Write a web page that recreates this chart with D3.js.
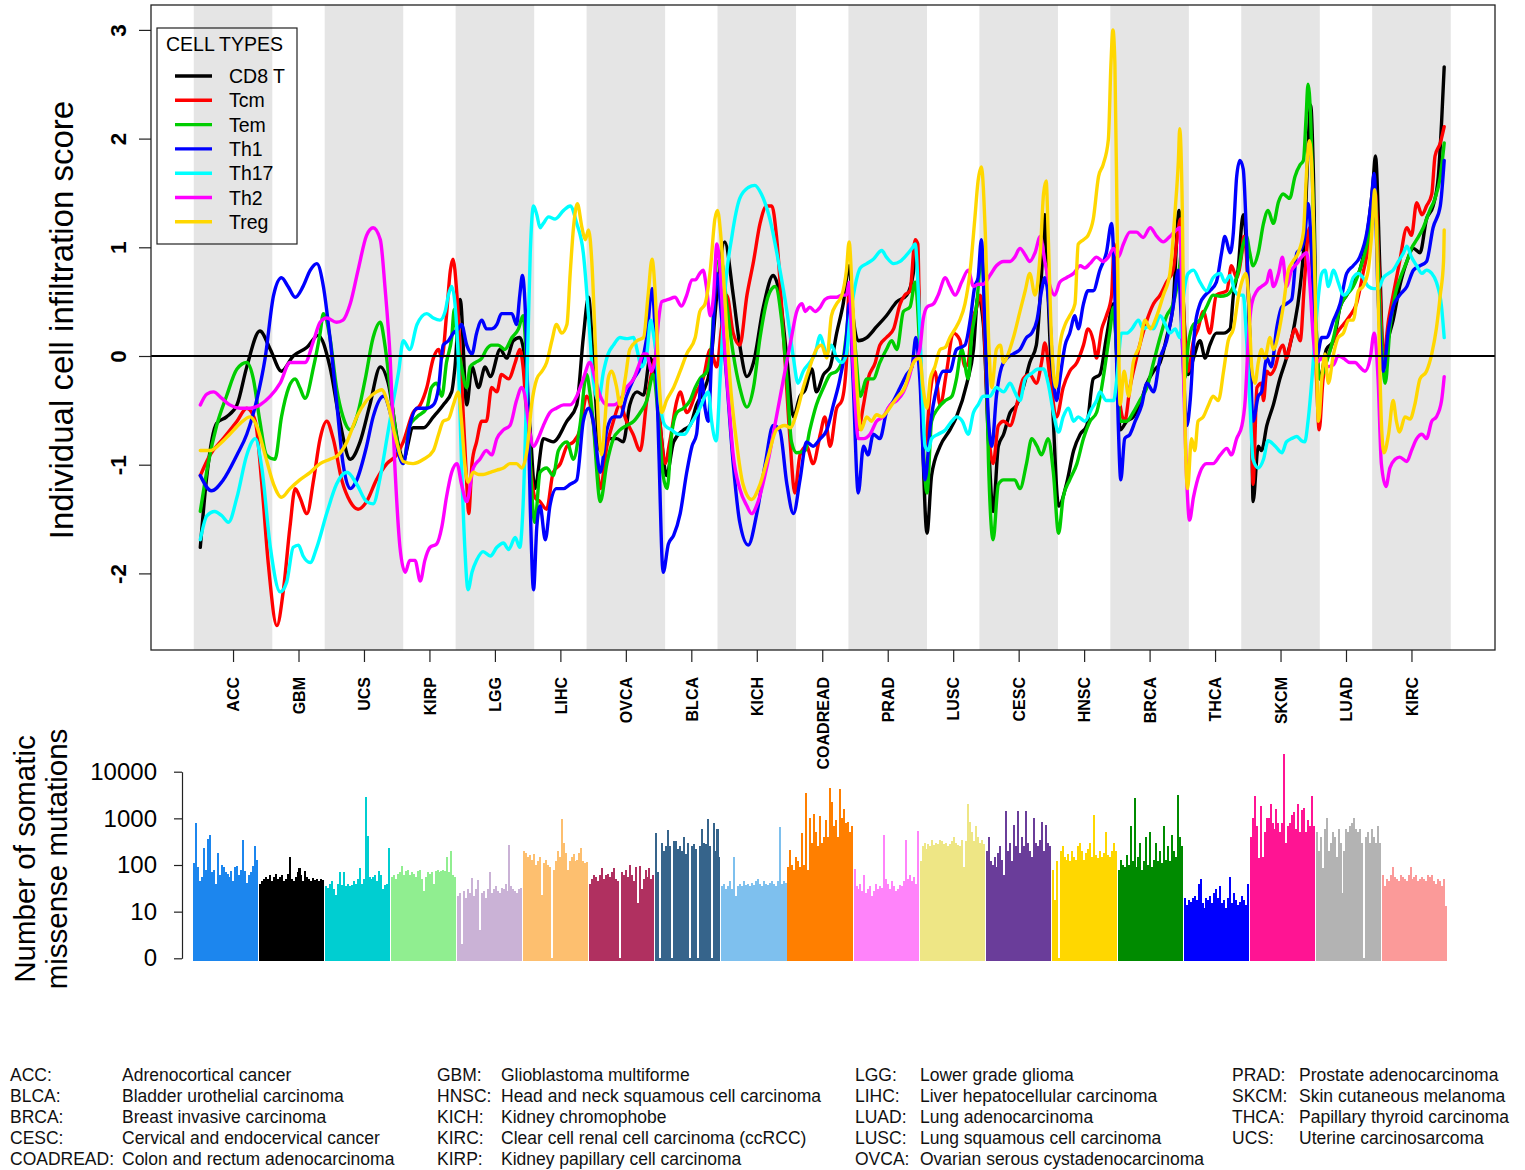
<!DOCTYPE html>
<html><head><meta charset="utf-8">
<script src="https://cdn.jsdelivr.net/npm/d3@7"></script>
<style>
body{margin:0;background:#fff}
svg{display:block}
text{font-family:"Liberation Sans",Arial,Helvetica,sans-serif}
</style>
</head><body>
<svg id="chart" width="1525" height="1170"></svg>
<script>
// Cancer types, in plotting order
const cancers = ["ACC","GBM","UCS","KIRP","LGG","LIHC","OVCA","BLCA","KICH","COADREAD","PRAD","LUSC","CESC","HNSC","BRCA","THCA","SKCM","LUAD","KIRC"];

// Cell types and their line colours
const cellTypes = ["CD8 T","Tcm","Tem","Th1","Th17","Th2","Treg"];
const cellColors = ["#000000","#FF0000","#00CD00","#0000FF","#00FFFF","#FF00FF","#FFD700"];

// Smoothed infiltration score along the ordered samples: [position, score]
// position runs 0..190, ten units per cancer type
const cd8T = [[0,-1.76],[1,-1.1],[2.5,-0.62],[4,-0.56],[5.6,-0.45],[7.1,-0.1],[9.1,0.23],[10.7,0.06],[12.4,-0.14],[14.2,0],[16.3,0.08],[18,0.19],[19.8,-0.1],[21.3,-0.6],[22.9,-0.95],[24.4,-0.79],[25.9,-0.45],[27.5,-0.1],[28.7,-0.25],[30.3,-0.83],[31,-0.95],[32.5,-0.66],[34.1,-0.66],[35.6,-0.56],[37.1,-0.45],[38.4,-0.33],[38.9,-0.1],[39.7,0.52],[40.7,-0.45],[41.5,-0.1],[42.5,-0.29],[43.5,-0.1],[44.3,-0.19],[45.8,0.06],[46.8,-0.02],[47.8,0.14],[48.8,0.17],[49.4,0.05],[50.4,-0.7],[51.1,-1.22],[52.4,-0.76],[53.9,-0.79],[56,-0.6],[57.5,-0.45],[58.5,0.17],[59.3,0.54],[60,-0.02],[61.1,-0.87],[62.3,-0.76],[63.6,-0.76],[64.6,-0.79],[65.6,-0.45],[66.7,-0.33],[67.7,-0.36],[68.7,-0.02],[69.5,-0.17],[70.5,-0.79],[71.2,-1.1],[72.3,-0.79],[73.8,-0.68],[74.8,-0.64],[75.8,-0.45],[76.8,-0.33],[77.9,-0.1],[78.9,0.56],[80.1,1.05],[81.4,0.56],[82.4,0.1],[83.5,-0.19],[84.5,-0.06],[86,0.45],[87.5,0.74],[88.5,0.56],[89.6,-0.02],[90.6,-0.56],[91.6,-0.37],[92.4,-0.31],[93.4,-0.12],[94.1,-0.33],[95.2,-0.17],[96.2,-0.1],[97.2,0.21],[98.2,0.48],[99.1,0.83],[99.7,0.37],[100.5,0.14],[101.8,0.17],[103.3,0.27],[104.8,0.37],[106.4,0.5],[107.9,0.56],[108.9,0.76],[109.4,1.03],[109.9,0.17],[110.4,-0.91],[111,-1.63],[111.7,-1.1],[113,-0.83],[114.5,-0.68],[115.5,-0.56],[117.1,-0.25],[118.1,0.06],[118.8,0.56],[119.6,0.3],[120.4,-0.79],[121.1,-1.43],[121.9,-0.83],[122.7,-0.72],[123.7,-0.52],[124.7,-0.45],[125.7,-0.29],[126.7,-0.06],[127.7,0.1],[128.5,0.76],[129,1.3],[129.5,0.56],[130.3,-0.6],[131.1,-1.38],[132.3,-1.18],[133.4,-0.87],[134.4,-0.72],[135.4,-0.64],[136.4,-0.21],[137.4,-0.17],[138.4,0.17],[139.5,0.48],[140,-0.02],[140.5,-0.68],[141.5,-0.6],[142.5,-0.56],[143.5,-0.45],[144.6,-0.25],[145.6,-0.14],[146.6,-0.06],[147.6,0.17],[148.6,0.48],[149.5,1.34],[150.1,0.56],[150.9,-0.17],[151.7,-0.02],[152.7,0.14],[153.5,-0.02],[154.2,0.1],[155.2,0.21],[156.3,0.21],[157.3,0.25],[157.8,0.56],[158.5,0.79],[159.3,1.3],[160.1,0.56],[160.6,-0.6],[160.8,-1.34],[161.6,-0.83],[162.1,-0.87],[162.9,-0.64],[163.9,-0.45],[164.9,-0.21],[165.9,-0.02],[167,0.25],[168,0.64],[168.7,1.14],[169.2,1.92],[169.6,2.31],[170,1.73],[170.5,0.17],[171,-0.21],[172,0.06],[173.1,0.14],[174.1,0.45],[175.1,0.56],[176.1,0.68],[177.1,0.79],[178.1,1.07],[179.1,1.57],[179.5,1.84],[180.2,0.76],[180.7,-0.06],[181.5,0.17],[182.2,0.33],[183.2,0.64],[184.3,0.87],[185.3,0.99],[186.3,0.95],[187.3,1.26],[188.3,1.38],[189.1,1.65],[189.6,2.15],[190,2.66]];

const tcm = [[0,-1.1],[1.5,-0.91],[3.5,-0.76],[5.6,-0.6],[7.1,-0.48],[8.4,-0.6],[9.4,-1.18],[10.4,-1.92],[11.7,-2.48],[12.7,-2.15],[13.7,-1.57],[14.5,-1.22],[15.2,-1.3],[16.3,-1.45],[17.3,-1.14],[18.3,-0.76],[19.3,-0.6],[20.3,-0.76],[21.6,-1.14],[22.9,-1.34],[24.1,-1.41],[25.4,-1.34],[26.9,-1.14],[28.5,-0.99],[30,-0.91],[31,-0.79],[32.5,-0.52],[33.6,-0.45],[34.6,-0.29],[35.6,-0.02],[36.4,0.06],[36.9,-0.02],[37.6,0.37],[38.2,0.79],[38.6,0.89],[39.2,0.56],[39.9,-0.21],[40.7,-1.18],[41,-1.45],[41.5,-0.99],[42.2,-0.79],[43,-0.6],[43.7,-0.6],[44.5,-0.29],[45.3,-0.33],[46,-0.17],[47.1,-0.21],[48.1,-0.06],[48.8,0.06],[49.3,-0.1],[50.1,-0.79],[51.1,-1.3],[51.9,-1.34],[52.9,-1.41],[53.9,-1.07],[55,-0.99],[56,-0.83],[57,-0.79],[58,-0.68],[59,-0.37],[60,-0.6],[61.1,-1.22],[62.1,-0.83],[63.1,-0.6],[64.1,-0.45],[65.1,-0.6],[66.1,-0.72],[67.2,-0.87],[68.2,-0.41],[69,-0.14],[69.5,-0.02],[70.2,-0.6],[71,-0.99],[71.7,-0.79],[72.8,-0.41],[73.3,-0.33],[74.3,-0.52],[75.8,-0.33],[76.8,-0.21],[77.9,0.06],[78.9,-0.1],[79.6,0.25],[80.4,0.56],[81.4,0.21],[82.4,0.1],[83.5,0.56],[84.5,0.87],[85.5,1.22],[86.5,1.38],[87.3,1.38],[88,1.11],[89.1,0.17],[90.1,-0.79],[90.8,-1.26],[91.6,-0.91],[92.6,-0.83],[93.6,-0.99],[94.7,-0.72],[95.4,-0.56],[96.2,-0.83],[97.2,-0.48],[98,-0.41],[98.7,-0.06],[99.1,0.64],[99.7,0.17],[100.5,-0.68],[101.3,-0.45],[102,-0.21],[103.1,-0.06],[103.8,0.1],[104.8,0.17],[105.9,0.25],[106.9,0.48],[107.6,0.56],[108.4,0.6],[109.2,1.07],[109.6,1.03],[109.9,0.17],[110.7,-0.83],[111.5,-0.33],[112.2,-0.14],[113,-0.45],[114,-0.14],[115,0.21],[116,0.15],[116.8,-0.1],[117.3,-0.06],[117.8,0.29],[118.6,0.45],[119.1,0.56],[119.6,0.37],[120.4,-0.68],[121.1,-0.99],[121.9,-0.64],[122.7,-0.6],[123.7,-0.64],[124.7,-0.45],[125.7,-0.21],[126.7,-0.17],[127.7,-0.25],[128.5,-0.06],[129,0.12],[129.8,-0.21],[130.8,-0.56],[131.8,-0.29],[132.8,-0.14],[133.9,-0.06],[134.9,0.1],[135.6,0.25],[136.4,0.14],[136.9,-0.02],[137.7,0.25],[138.4,0.37],[139.2,0.56],[139.6,1.03],[140,0.17],[140.5,-0.45],[141.2,-0.6],[142,-0.29],[143,-0.02],[143.8,0.17],[144.6,0.33],[145.6,0.48],[146.6,0.56],[147.6,0.68],[148.6,0.79],[149.4,1.18],[149.7,1.26],[150.1,0.56],[150.9,-0.14],[151.7,0.14],[152.4,0.25],[153.2,0.41],[154.2,0.21],[155.2,0.56],[156.8,0.6],[157.5,0.83],[158.3,0.72],[159.1,0.95],[159.4,1.1],[160.1,0.56],[160.6,-0.6],[160.8,-1.18],[161.4,-0.29],[162.1,-0.25],[162.4,-0.41],[162.9,-0.14],[163.4,-0.17],[164.2,-0.1],[164.9,0.06],[165.4,0.1],[165.9,-0.02],[166.7,0.17],[167.2,0.25],[168,0.14],[168.7,0.72],[169.4,1.18],[170,0.56],[170.5,-0.21],[170.9,-0.68],[171.5,-0.21],[172.6,0.06],[173.6,0.21],[174.6,0.29],[175.6,0.37],[176.6,0.48],[177.6,0.76],[178.7,1.11],[179.4,1.53],[180.2,0.56],[180.7,-0.02],[181.5,0.33],[182.2,0.56],[183.2,0.87],[184.3,1.18],[185,1.11],[185.8,1.41],[186.6,1.3],[187.3,1.38],[188.1,1.49],[188.6,1.84],[189.4,1.96],[190,2.11]];

const tem = [[0,-1.43],[1.2,-0.99],[2.5,-0.64],[4,-0.37],[5.6,-0.12],[7.1,-0.06],[8.1,-0.21],[9.1,-0.6],[10.1,-0.91],[11.4,-0.95],[12.4,-0.56],[13.5,-0.29],[14.5,-0.21],[15.2,-0.29],[16,-0.39],[17.3,-0.1],[18.3,0.21],[18.8,0.39],[19.8,0.17],[20.8,-0.29],[21.8,-0.56],[22.9,-0.68],[23.9,-0.56],[25.2,-0.21],[26.4,0.17],[27.5,0.31],[28.2,0.1],[29,-0.29],[30,-0.76],[31,-0.99],[32,-0.64],[33.1,-0.56],[34.6,-0.48],[35.3,-0.29],[36.1,-0.25],[36.9,-0.37],[37.6,-0.06],[38.4,0.17],[38.8,0.43],[39.2,0.17],[39.9,-0.1],[40.7,-0.29],[41.2,-0.1],[42,-0.06],[43,-0.02],[43.7,0.06],[44.5,0.1],[45.5,0.1],[46.5,0.06],[47.6,0.17],[48.6,0.25],[49.3,0.37],[49.8,-0.02],[50.4,-0.99],[51.1,-1.53],[51.9,-1.07],[52.9,-1.03],[53.9,-1.1],[54.7,-0.87],[56,-0.79],[57,-0.95],[58,-0.64],[59,-0.17],[59.5,-0.33],[60,-0.6],[61.1,-1.34],[62.1,-0.99],[63.1,-0.76],[64.1,-0.68],[65.1,-0.64],[66.2,-0.6],[67.2,-0.52],[68.2,-0.41],[69.2,-0.17],[70,-0.6],[70.7,-1.1],[71.3,-1.22],[72,-0.72],[72.8,-0.52],[73.8,-0.48],[74.8,-0.41],[75.6,-0.29],[76.3,-0.21],[77.4,-0.14],[78.1,0.1],[78.9,0.87],[79.6,0.87],[80.4,0.48],[81.4,0.02],[82.4,-0.29],[83.5,-0.47],[84.5,-0.29],[85.5,0.17],[86.8,0.56],[87.8,0.64],[88.8,0.33],[89.6,-0.21],[90.3,-0.79],[91.1,-0.89],[92.4,-0.87],[93.1,-0.68],[94.1,-0.45],[95.2,-0.29],[96.2,-0.17],[97.2,-0.14],[98.2,-0.02],[98.7,0.21],[99.2,0.48],[100,0.1],[100.8,-0.37],[101.8,-0.21],[102.8,-0.21],[103.8,-0.06],[104.8,0.06],[105.6,0.14],[106.4,0.06],[107.4,0.41],[108.4,0.45],[109.2,0.68],[109.8,0.17],[110.4,-0.79],[111,-1.26],[111.7,-0.6],[112.7,-0.48],[113.8,-0.41],[114.8,-0.37],[115.5,-0.21],[116.3,0.06],[117.3,-0.21],[117.8,0.17],[118.6,0.48],[119.3,0.91],[119.9,0.3],[120.4,-0.99],[121.1,-1.69],[121.9,-1.18],[122.7,-1.14],[123.7,-1.14],[124.4,-1.14],[125.2,-1.22],[126.2,-0.99],[127,-0.76],[127.8,-0.83],[128.5,-0.91],[129.5,-0.76],[130.3,-1.07],[131.1,-1.63],[131.8,-1.3],[132.8,-1.14],[133.9,-0.99],[134.9,-0.76],[135.9,-0.6],[136.9,-0.52],[137.9,-0.21],[138.9,0.21],[139.5,0.45],[140,-0.02],[140.5,-0.6],[141.5,-0.6],[142.5,-0.52],[143.5,-0.41],[144.6,-0.29],[145.6,-0.06],[146.6,0.17],[147.6,0.37],[148.6,0.48],[149.4,0.72],[149.9,0.95],[150.4,-0.2],[150.9,0.1],[151.7,0.29],[152.7,0.33],[153.7,0.45],[154.7,0.56],[155.8,0.55],[156.8,0.56],[157.8,0.64],[158.6,0.79],[159.3,1.03],[159.8,1.1],[160.3,0.95],[160.8,0.83],[161.6,0.95],[162.4,1.22],[163.1,1.34],[163.9,1.22],[164.7,1.42],[165.4,1.49],[166.4,1.45],[167.2,1.65],[168,1.76],[168.5,1.8],[168.9,2.19],[169.2,2.5],[169.6,2.19],[170,1.34],[170.5,0.17],[171,-0.21],[172,-0.06],[173.1,0.17],[174.1,0.45],[175.1,0.56],[176.1,0.64],[177.1,0.79],[178.2,1.03],[178.9,1.26],[179.4,1.45],[180.2,0.37],[181,-0.25],[181.7,0.25],[182.5,0.56],[183.3,0.72],[184.3,0.87],[185,0.99],[185.8,1.07],[186.8,1.18],[187.8,1.34],[188.6,1.45],[189.4,1.65],[190,1.96]];

const th1 = [[0,-1.1],[1.7,-1.24],[3.5,-1.14],[5.6,-0.91],[7.1,-0.72],[8.6,-0.41],[9.9,-0.02],[11.2,0.56],[12.4,0.72],[13.4,0.64],[14.5,0.54],[15.7,0.64],[16.8,0.79],[17.8,0.85],[18.8,0.64],[19.8,0.17],[20.8,-0.41],[21.8,-0.99],[22.9,-1.22],[23.9,-1.14],[25.4,-0.83],[26.4,-0.56],[28,-0.37],[29,-0.52],[30,-0.83],[31,-0.99],[32,-0.64],[33.1,-0.48],[34.6,-0.48],[35.6,-0.45],[36.4,-0.29],[37.1,0.1],[37.9,0.14],[38.65,0.21],[39.4,0.25],[39.9,0.29],[40.7,0.1],[41.5,0.02],[42.2,0.21],[43,0.33],[43.7,0.25],[44.5,0.25],[45.3,0.29],[46,0.39],[46.8,0.39],[47.6,0.39],[48.3,0.29],[48.8,0.56],[49.2,0.74],[49.8,0.17],[50.4,-1.38],[50.9,-2.15],[51.4,-1.57],[51.9,-1.38],[52.7,-1.69],[53.4,-1.38],[54.4,-1.22],[55.5,-1.22],[56.5,-1.18],[57.5,-1.14],[58.5,-0.6],[59.3,-0.48],[60,-0.6],[61.1,-1.07],[62.1,-0.68],[63.1,-0.56],[64.1,-0.56],[65.1,-0.37],[66.2,-0.21],[67.2,-0.1],[68.2,0.17],[69,0.62],[69.5,0.17],[70,-0.79],[70.7,-1.99],[71.5,-1.73],[72.3,-1.65],[73.3,-1.45],[74.3,-1.07],[75.1,-0.83],[75.8,-0.72],[76.6,-0.21],[77.1,-0.48],[77.6,-0.6],[78.1,-0.02],[78.9,0.76],[79.6,0.37],[80.4,-0.21],[81.4,-0.99],[82.4,-1.53],[83.7,-1.74],[85,-1.45],[86.3,-0.99],[87.5,-0.64],[88.5,-0.68],[89.6,-1.18],[90.6,-1.45],[91.6,-1.14],[92.6,-0.79],[93.6,-0.83],[94.7,-0.76],[95.7,-0.68],[96.7,-0.45],[97.7,-0.21],[98.7,0.17],[99.1,0.48],[99.7,-0.21],[100.5,-1.26],[101.3,-0.83],[102,-0.91],[102.8,-0.72],[103.8,-0.76],[104.8,-0.52],[105.9,-0.41],[106.9,-0.29],[107.9,-0.17],[108.7,-0.1],[109.3,0.17],[109.9,-0.21],[110.7,-1.14],[111.5,-0.64],[112.5,-0.29],[113.5,-0.14],[114.5,-0.14],[115.5,0.06],[116.8,0.1],[117.6,0.33],[118.3,0.64],[118.8,0.72],[119.3,1.07],[119.9,0.17],[120.4,-0.6],[120.9,-0.83],[121.6,-0.37],[122.4,-0.1],[123.2,-0.02],[124.2,0.02],[125.2,0.06],[126.2,0.17],[127,0.21],[127.8,0.33],[128.5,0.6],[129,0.72],[129.7,0.41],[130.3,-0.21],[130.8,-0.41],[131.3,-0.21],[132.1,0.1],[132.8,0.21],[133.6,0.37],[134.1,0.25],[134.9,0.48],[135.6,0.6],[136.4,0.6],[137.4,0.79],[138.4,0.95],[139.2,1.22],[139.7,0.56],[140.2,-0.6],[140.6,-1.14],[141.2,-0.76],[142,-0.72],[142.8,-0.6],[143.8,-0.45],[144.6,-0.25],[145.6,-0.33],[146.6,-0.02],[147.6,0.14],[148.6,0.45],[149.4,0.79],[149.9,0.25],[150.7,-0.64],[151.2,-0.41],[151.9,0.25],[152.7,0.48],[153.5,0.56],[154.2,0.6],[155.2,0.68],[156,0.95],[156.5,1.1],[157.3,0.95],[157.8,1.14],[158.3,1.65],[158.8,1.8],[159.3,1.72],[159.8,1.1],[160.3,0.17],[160.8,-0.6],[161.6,-0.37],[162.1,-0.33],[162.9,-0.02],[163.6,-0.1],[164.4,0.25],[165.2,0.45],[165.9,0.48],[166.7,0.52],[167.5,0.95],[168.2,0.99],[168.7,1.1],[169.2,1.4],[169.8,0.9],[170.3,0.2],[170.5,-0.02],[171.3,0.17],[172,0.17],[173.1,0.33],[174.1,0.48],[175.1,0.76],[176.1,0.83],[177.1,0.91],[178.2,1.14],[178.9,1.45],[179.3,1.68],[179.9,0.56],[180.7,-0.14],[181.5,0.25],[182.2,0.45],[183.2,0.56],[184.3,0.64],[185.3,0.79],[186.3,0.83],[187.3,0.87],[188.3,1.18],[189.4,1.38],[190,1.8]];

const th17 = [[0,-1.69],[1,-1.47],[2.2,-1.43],[3.3,-1.47],[4.3,-1.53],[5.6,-1.3],[7.1,-0.91],[8.4,-0.76],[9.4,-1.03],[10.7,-1.76],[12.2,-2.17],[13.2,-2.08],[14.2,-1.76],[15,-1.74],[15.7,-1.84],[16.8,-1.9],[17.8,-1.76],[19.3,-1.45],[20.8,-1.18],[22.4,-1.07],[23.9,-1.18],[25.4,-1.34],[26.4,-1.36],[27.5,-1.11],[28.5,-0.76],[29.5,-0.41],[30.3,-0.14],[31,0.14],[32,0.06],[33.1,0.29],[34.6,0.39],[35.6,0.35],[36.6,0.33],[37.4,0.41],[37.9,0.56],[38.4,0.64],[38.9,0.48],[39.4,-0.02],[39.9,-0.99],[40.4,-1.76],[40.9,-2.15],[41.5,-1.99],[42.2,-1.88],[43.2,-1.8],[44.3,-1.84],[45.3,-1.76],[46.3,-1.72],[47.1,-1.78],[48.1,-1.67],[48.8,-1.76],[49.3,-1.38],[49.9,-0.21],[50.4,0.95],[50.9,1.38],[51.4,1.3],[51.9,1.18],[52.4,1.22],[53.2,1.28],[54.2,1.26],[55.5,1.34],[56.5,1.38],[57.5,1.22],[58.5,0.95],[59.3,0.37],[60,-0.21],[60.8,-0.41],[61.6,-0.14],[62.3,0.02],[63.1,0.1],[64.1,0.17],[65.1,0.16],[66.2,0.17],[66.7,0.06],[67.4,-0.1],[68.2,0.02],[68.8,0.33],[69.2,0.21],[69.7,-0.02],[70.2,-0.41],[71,-0.64],[72,-0.68],[73,-0.72],[74,-0.72],[74.8,-0.64],[75.6,-0.56],[76.3,-0.48],[77.1,-0.37],[77.6,-0.33],[78.1,-0.6],[78.8,-0.78],[79.4,-0.21],[80.1,0.56],[81.2,1.1],[82.4,1.45],[83.7,1.55],[84.7,1.57],[85.7,1.49],[87,1.26],[88.3,0.87],[89.6,0.41],[90.6,-0.02],[91.3,-0.25],[92.1,-0.14],[93.1,-0.06],[93.9,0.02],[94.7,0.19],[95.2,0.1],[95.7,0.02],[96.4,0.1],[97.2,-0.02],[98,-0.06],[98.7,0.02],[99.2,0.33],[100,0.64],[100.8,0.81],[101.8,0.85],[102.8,0.89],[104.1,0.97],[104.8,0.91],[105.9,0.85],[106.9,0.87],[107.9,0.93],[108.7,0.99],[109.2,1.03],[109.7,0.56],[110.2,-0.21],[110.7,-0.83],[111.2,-0.87],[111.7,-0.76],[112.7,-0.72],[113.8,-0.68],[114.8,-0.6],[115.5,-0.56],[116.4,-0.6],[117.3,-0.72],[118.1,-0.52],[118.8,-0.45],[119.6,-0.37],[120.6,-0.37],[121.6,-0.29],[122.7,-0.33],[123.7,-0.25],[124.4,-0.33],[125.2,-0.41],[126,-0.21],[127,-0.16],[128,-0.12],[128.8,-0.12],[129.5,-0.25],[130.3,-0.52],[131.1,-0.7],[131.8,-0.56],[132.6,-0.48],[133.4,-0.6],[134.1,-0.56],[135.1,-0.6],[136.2,-0.48],[136.9,-0.41],[137.4,-0.33],[138.4,-0.41],[139.5,-0.41],[140,-0.21],[140.7,0.21],[141.5,0.21],[142.3,0.25],[143.3,0.33],[144,0.25],[144.8,0.27],[145.6,0.25],[146.6,0.37],[147.4,0.29],[148.1,0.21],[148.9,0.25],[149.6,0.17],[150.2,0.56],[150.9,0.76],[151.7,0.79],[152.7,0.68],[153.7,0.6],[154.7,0.72],[155.8,0.76],[156.5,0.68],[157.3,0.74],[158,0.6],[158.8,0.56],[159.3,0.56],[159.8,0.17],[160.3,-0.41],[160.8,-0.95],[161.6,-1.03],[162.4,-0.95],[163.1,-0.78],[164.2,-0.83],[165.2,-0.89],[165.9,-0.79],[166.7,-0.76],[167.5,-0.74],[168.2,-0.78],[168.7,-0.79],[169.2,-0.6],[169.8,-0.21],[170.5,0.37],[171.3,0.76],[171.8,0.79],[172.3,0.64],[173.1,0.79],[173.8,0.68],[174.6,0.56],[175.4,0.6],[176.1,0.72],[176.9,0.76],[177.6,0.72],[178.4,0.64],[179.2,0.62],[179.9,0.62],[180.7,0.72],[181.5,0.76],[182.2,0.79],[183,0.87],[183.8,0.95],[184.3,1.01],[185,0.91],[185.8,0.83],[186.6,0.76],[187.3,0.79],[188.1,0.76],[188.8,0.68],[189.6,0.45],[190,0.17]];

const th2 = [[0,-0.45],[1,-0.35],[2,-0.33],[3.3,-0.39],[4.5,-0.45],[6.1,-0.48],[7.6,-0.48],[9.1,-0.45],[10.7,-0.37],[12.2,-0.25],[13.7,-0.06],[15,-0.06],[16,-0.06],[17.3,0.14],[18.3,0.31],[19.3,0.35],[20.8,0.31],[21.8,0.33],[22.9,0.48],[24.1,0.79],[25.4,1.11],[26.4,1.18],[27.5,1.07],[28.2,0.64],[29,-0.02],[29.7,-0.99],[30.5,-1.76],[31.3,-1.99],[32,-1.88],[32.8,-1.88],[33.6,-2.07],[34.3,-1.88],[35.1,-1.76],[36.1,-1.73],[36.9,-1.57],[37.6,-1.3],[38.4,-1.07],[39.2,-0.99],[39.9,-1.18],[40.7,-1.34],[41.7,-1.03],[42.7,-0.95],[43.7,-0.87],[44.5,-0.91],[45.3,-0.76],[46.3,-0.68],[47.3,-0.64],[48.3,-0.41],[49.1,-0.29],[49.6,-0.37],[50.1,-0.6],[50.9,-0.83],[51.6,-0.76],[52.4,-0.64],[53.4,-0.52],[54.4,-0.48],[55.5,-0.45],[56.5,-0.45],[57.5,-0.37],[58.5,-0.21],[59.5,-0.06],[60.3,-0.21],[61.1,-0.37],[62.1,-0.45],[63.1,-0.45],[64.1,-0.41],[65.1,-0.29],[66.2,-0.21],[66.9,-0.1],[67.7,0.02],[68.2,0.02],[68.9,-0.14],[69.5,-0.02],[70,0.33],[70.5,0.5],[71.5,0.52],[72.5,0.54],[73.5,0.46],[74.3,0.56],[75.1,0.7],[75.6,0.7],[76.3,0.76],[76.8,0.79],[77.3,0.64],[77.9,0.37],[78.4,0.56],[78.9,1.03],[79.4,0.79],[79.9,0.25],[80.7,-0.41],[81.4,-0.91],[82.4,-1.22],[83.5,-1.38],[84.2,-1.45],[85.2,-1.34],[86.5,-1.03],[88,-0.56],[89.3,-0.14],[90.3,0.17],[91.1,0.41],[91.9,0.48],[92.4,0.41],[93.1,0.45],[93.9,0.41],[94.7,0.45],[95.4,0.52],[96.2,0.54],[97.2,0.54],[98,0.56],[98.7,0.56],[99.1,0.68],[99.5,0.17],[100,-0.41],[100.5,-0.76],[101.3,-0.76],[102.3,-0.72],[103.3,-0.6],[104.3,-0.56],[105.4,-0.45],[106.4,-0.41],[107.4,-0.33],[108.2,-0.21],[108.9,-0.06],[109.4,-0.02],[109.9,0.06],[110.4,0.33],[111,0.45],[112,0.48],[112.7,0.56],[113.8,0.72],[114.5,0.64],[115.3,0.56],[116.3,0.68],[117.3,0.79],[118.1,0.64],[118.8,0.66],[119.6,0.66],[120.6,0.74],[121.6,0.83],[122.7,0.87],[123.7,0.87],[124.4,0.91],[125.2,0.99],[126,0.93],[126.7,0.87],[127.5,0.95],[128.3,1.1],[129,0.87],[129.8,0.64],[130.5,0.56],[131.3,0.68],[132.3,0.72],[133.4,0.76],[134.4,0.83],[135.1,0.81],[135.9,0.85],[136.9,0.91],[137.9,0.87],[138.7,0.91],[139.5,0.99],[140.2,0.91],[141,1.03],[142,1.14],[143,1.14],[144,1.09],[145.1,1.18],[146.1,1.1],[147.1,1.05],[148.1,1.1],[149.1,1.16],[149.6,1.18],[150.2,-0.21],[150.7,-1.18],[151.1,-1.51],[151.7,-1.3],[152.7,-1.07],[153.7,-0.99],[154.7,-0.99],[155.8,-0.91],[156.8,-0.85],[157.5,-0.91],[158.3,-0.76],[159.1,-0.64],[159.6,-0.41],[160.1,0.17],[160.6,0.48],[161.4,0.6],[162.1,0.64],[162.9,0.68],[163.4,0.79],[163.9,0.64],[164.7,0.76],[165.3,0.91],[165.9,0.64],[166.7,0.79],[167.5,0.85],[168.2,0.91],[169,0.95],[169.5,0.64],[170,0.17],[170.5,-0.06],[171.3,-0.02],[172,-0.1],[173.1,-0.08],[173.8,0],[174.6,-0.02],[175.6,-0.06],[176.4,-0.06],[177.1,-0.1],[177.9,-0.14],[178.7,-0.02],[179.3,0.21],[179.9,-0.21],[180.4,-0.99],[181.1,-1.2],[181.7,-1.03],[182.5,-0.95],[183.2,-0.93],[184.3,-0.97],[185,-0.87],[185.8,-0.76],[186.6,-0.72],[187.3,-0.76],[188.1,-0.6],[188.8,-0.56],[189.6,-0.41],[190,-0.19]];

const treg = [[0,-0.87],[1.5,-0.87],[3,-0.81],[4.5,-0.72],[6.1,-0.62],[7.6,-0.56],[8.6,-0.64],[9.9,-0.91],[11.2,-1.18],[12.4,-1.3],[13.7,-1.22],[15.2,-1.14],[16.8,-1.07],[18.3,-0.99],[19.8,-0.95],[21.1,-0.91],[22.4,-0.79],[23.9,-0.56],[25.4,-0.41],[26.9,-0.33],[27.7,-0.31],[28.7,-0.45],[29.7,-0.72],[31,-0.97],[32.5,-0.99],[34.1,-0.95],[35.6,-0.87],[36.4,-0.72],[37.1,-0.6],[37.9,-0.58],[38.65,-0.45],[39.4,-0.33],[39.9,-0.6],[40.4,-0.99],[40.9,-1.16],[41.7,-1.07],[42.5,-1.09],[43.2,-1.09],[44.3,-1.07],[45.3,-1.05],[46.3,-1.03],[47.3,-0.99],[48.3,-0.99],[49.1,-1.03],[49.9,-0.87],[50.6,-0.45],[51.4,-0.21],[52.2,-0.14],[52.9,-0.06],[53.7,0.14],[54.4,0.29],[55.2,0.21],[56,0.29],[56.5,0.76],[57,1.18],[57.6,1.4],[58.3,1.18],[58.8,1.07],[59.3,1.16],[59.8,0.87],[60.3,0.17],[60.8,-0.6],[61.3,-0.91],[61.8,-0.6],[62.3,-0.21],[62.8,-0.14],[63.6,-0.29],[64.1,-0.45],[64.9,-0.21],[65.6,0.06],[66.7,0.14],[67.7,0.17],[68.4,0.56],[69,0.89],[69.5,0.56],[70,-0.14],[70.5,-0.52],[71.2,-0.41],[72.3,-0.29],[73.3,-0.14],[74.3,0.02],[75.6,0.17],[76.3,0.41],[77.1,0.48],[77.9,0.79],[78.6,1.26],[79,1.34],[79.5,1.11],[80.1,0.56],[80.9,-0.21],[81.9,-0.79],[82.9,-1.18],[84.2,-1.32],[85.5,-1.18],[86.8,-0.91],[88,-0.68],[89.3,-0.64],[90.1,-0.66],[91.1,-0.52],[92.1,-0.29],[93.1,-0.1],[94.1,0.06],[94.9,0.1],[95.7,-0.02],[96.4,0.37],[97.2,0.48],[98,0.56],[98.7,0.79],[99.1,1.05],[99.6,0.56],[100.3,-0.29],[100.9,-0.68],[101.8,-0.56],[102.5,-0.6],[103.3,-0.54],[104.1,-0.56],[104.8,-0.52],[105.6,-0.45],[106.6,-0.37],[107.6,-0.29],[108.4,-0.14],[109.2,-0.04],[109.9,-0.02],[110.4,-0.29],[111,-0.48],[111.5,-0.21],[112.2,-0.1],[113,0.06],[113.8,0.08],[114.5,0.17],[115.3,0.25],[116,0.33],[116.8,0.48],[117.6,0.79],[118.3,1.26],[118.8,1.61],[119.3,1.74],[119.9,1.14],[120.4,0.17],[120.9,-0.29],[121.6,0.06],[122.2,0.1],[122.7,-0.06],[123.4,0.02],[124.2,0.17],[125.2,0.41],[126,0.6],[126.7,0.76],[127.5,0.56],[128.3,0.95],[128.8,1.49],[129.2,1.61],[129.5,1.14],[130,0.17],[130.7,-0.29],[131.3,0.1],[132.1,0.29],[132.8,0.37],[133.6,0.48],[134.1,1.03],[134.9,1.07],[135.6,1.11],[136.4,1.26],[137.2,1.65],[137.9,1.76],[138.7,1.99],[139.1,2.69],[139.4,3.0],[139.7,2.69],[140.1,0.95],[140.5,-0.45],[141.1,-0.14],[141.8,-0.37],[142.5,-0.06],[143.5,0.1],[144.3,0.33],[145.1,0.25],[146.1,0.37],[147.1,0.56],[148.1,0.76],[148.9,1.34],[149.4,1.8],[149.6,2.09],[150,1.34],[150.4,-0.6],[150.8,-1.22],[151.4,-0.76],[151.9,-0.87],[152.4,-0.6],[153.2,-0.56],[154,-0.45],[154.7,-0.37],[155.5,-0.41],[156.3,-0.14],[157,0.14],[157.8,0.25],[158.6,0.56],[159.3,0.72],[159.7,0.76],[160.1,0.56],[160.6,-0.1],[161.1,-0.25],[161.6,-0.06],[162.1,0.06],[162.6,-0.02],[163.4,0.17],[163.9,0.06],[164.7,0.21],[165.4,0.45],[166.2,0.79],[166.9,0.87],[167.7,0.95],[168.5,1.14],[169,1.72],[169.4,1.98],[169.8,1.72],[170.3,0.56],[170.8,-0.6],[171.3,-0.21],[171.8,0.02],[172.3,-0.25],[173.1,0.02],[173.8,0.17],[174.6,0.21],[175.4,0.33],[176.1,0.33],[176.9,0.6],[177.6,0.64],[178.4,0.79],[178.9,1.1],[179.4,1.53],[179.9,0.56],[180.4,-0.6],[180.8,-0.89],[181.5,-0.72],[182.2,-0.41],[182.7,-0.6],[183.2,-0.7],[184,-0.56],[184.8,-0.58],[185.5,-0.45],[186.3,-0.21],[187.3,-0.14],[188.1,0.02],[188.8,0.25],[189.4,0.56],[189.9,0.87],[190,1.16]];

const cellSeries = [cd8T, tcm, tem, th1, th17, th2, treg];

// Axis ticks
const scoreTicks = [-2, -1, 0, 1, 2, 3];
const mutationTicks = [1, 10, 100, 1000, 10000];
const mutationTickLabels = ["0", "10", "100", "1000", "10000"];

// Per-sample somatic missense mutation counts, one array per cancer type
const mutACC = [110,780,92,45,55,230,80,360,440,70,80,40,180,60,100,90,70,65,55,75,45,90,95,60,80,345,75,42,60,70,95,255,130];
const mutGBM = [40,45,50,55,50,60,45,55,65,50,55,60,45,50,65,150,50,45,55,70,85,60,45,75,55,50,45,52,48,50,45,50,48];
const mutUCS = [35,32,40,45,30,23,40,70,38,72,35,40,35,38,45,40,50,85,40,50,2900,420,55,50,55,60,45,75,60,30,38,40,230];
const mutKIRP = [55,60,50,65,70,95,60,75,80,60,70,65,55,75,80,50,28,55,70,65,72,40,75,80,70,75,80,75,150,70,200,60,55];
const mutLGG = [22,25,2,28,20,30,25,52,22,30,48,4,25,28,20,30,70,25,30,35,28,25,32,30,40,28,270,35,30,28,25,30,32];
const mutLIHC = [200,180,150,160,130,170,100,120,150,23,110,130,100,90,1,80,120,200,150,950,300,180,80,120,150,170,120,130,180,230,120,110,115];
const mutOVCA = [40,50,60,55,45,60,85,50,60,65,55,70,85,50,45,1,70,60,80,55,100,60,45,90,15,95,30,50,80,55,85,50,60];
const mutBLCA = [490,70,1,300,200,250,560,250,1,320,330,220,250,200,400,170,300,1,250,280,220,1,250,600,300,280,950,250,1,800,200,600,150];
const mutKICH = [35,40,30,35,45,30,146,22,35,40,35,45,38,40,35,42,38,45,50,40,35,45,40,38,42,45,40,35,45,640,40,45,42];
const mutCOADREAD = [90,210,100,80,150,120,90,490,100,3500,80,1030,300,1270,500,250,1100,300,400,900,400,4400,2200,700,900,400,4200,1000,1560,800,850,500,700];
const mutPRAD = [82,35,30,40,28,60,25,30,35,22,28,40,30,35,32,440,50,40,30,45,35,28,30,38,35,45,345,50,60,45,55,40,540];
const mutLUSC = [120,250,300,220,280,250,350,270,300,280,350,320,280,300,250,280,320,400,300,270,250,350,90,320,2000,850,500,330,700,400,300,350,280];
const mutCESC = [200,390,120,100,150,90,180,250,130,60,1440,200,300,120,720,250,1440,180,400,250,1440,300,200,150,1000,300,250,350,830,200,720,300,250];
const mutHNSC = [80,18,120,1,200,250,150,130,170,120,200,150,130,250,300,200,130,180,220,300,150,1180,160,140,200,150,180,500,160,150,200,300,200];
const mutBRCA = [80,130,100,90,160,100,690,120,2700,90,150,300,80,120,400,100,500,90,130,300,120,200,110,690,130,250,120,450,200,150,3200,400,250];
const mutTHCA = [20,14,18,16,20,22,18,40,50,15,12,20,18,22,15,25,30,20,35,15,18,12,20,55,15,25,18,14,16,22,18,14,40];
const mutSKCM = [400,1000,3000,700,140,1800,150,500,1000,1000,2000,800,600,1600,800,500,800,24000,300,700,800,1200,1400,600,2000,500,1500,1700,500,900,700,3000,700];
const mutLUAD = [500,200,400,87,600,1000,200,300,500,400,150,600,300,25,200,600,500,700,800,1000,600,500,600,300,1,400,500,300,600,400,300,700,300];
const mutKIRC = [60,35,50,45,60,90,55,50,45,60,55,50,45,60,90,50,55,60,45,50,55,50,45,60,55,60,45,40,50,45,35,50,13];
const mutationCounts = [mutACC,mutGBM,mutUCS,mutKIRP,mutLGG,mutLIHC,mutOVCA,mutBLCA,mutKICH,mutCOADREAD,mutPRAD,mutLUSC,mutCESC,mutHNSC,mutBRCA,mutTHCA,mutSKCM,mutLUAD,mutKIRC];
const cancerColors = ["#1C86EE","#000000","#00CED1","#90EE90","#CAB2D6","#FDBF6F","#B03060","#36648B","#7EC0EE","#FF7F00","#FF83FA","#EEE685","#6A3D9A","#FFD700","#008B00","#0000FF","#FF1493","#B3B3B3","#FB9A99"];

// Abbreviation glossary, four columns
const glossaryCol1 = [["ACC:","Adrenocortical cancer"],["BLCA:","Bladder urothelial carcinoma"],["BRCA:","Breast invasive carcinoma"],["CESC:","Cervical and endocervical cancer"],["COADREAD:","Colon and rectum adenocarcinoma"]];
const glossaryCol2 = [["GBM:","Glioblastoma multiforme"],["HNSC:","Head and neck squamous cell carcinoma"],["KICH:","Kidney chromophobe"],["KIRC:","Clear cell renal cell carcinoma (ccRCC)"],["KIRP:","Kidney papillary cell carcinoma"]];
const glossaryCol3 = [["LGG:","Lower grade glioma"],["LIHC:","Liver hepatocellular carcinoma"],["LUAD:","Lung adenocarcinoma"],["LUSC:","Lung squamous cell carcinoma"],["OVCA:","Ovarian serous cystadenocarcinoma"]];
const glossaryCol4 = [["PRAD:","Prostate adenocarcinoma"],["SKCM:","Skin cutaneous melanoma"],["THCA:","Papillary thyroid carcinoma"],["UCS:","Uterine carcinosarcoma"]];

// ---------------------------------------------------------------
const svg = d3.select("#chart");
const FONT = '"Liberation Sans", Arial, Helvetica, sans-serif';

// Top panel: infiltration scores
const frame = {left: 151, top: 5, right: 1495, bottom: 650};
const x = d3.scaleLinear().domain([0, 190]).range([200.3, 1444.2]);
const y = d3.scaleLinear().domain([-2, 3]).range([573.4, 29.9]);
const centers = cancers.map((c, i) => 10 * i + 5);

// alternating grey bands behind every other cancer type
svg.append("g").selectAll("rect")
  .data(centers.filter((c, i) => i % 2 === 0))
  .join("rect")
  .attr("x", d => x(d - 6))
  .attr("width", d => x(d + 6) - x(d - 6))
  .attr("y", frame.top)
  .attr("height", frame.bottom - frame.top)
  .attr("fill", "#E5E5E5");

// one smoothed line per cell type
const line = d3.line().x(d => x(d[0])).y(d => y(d[1])).curve(d3.curveMonotoneX);
svg.append("g").selectAll("path")
  .data(cellSeries)
  .join("path")
  .attr("d", line)
  .attr("fill", "none")
  .attr("stroke", (d, i) => cellColors[i])
  .attr("stroke-width", 3.4)
  .attr("stroke-linejoin", "round")
  .attr("stroke-linecap", "round");

// zero reference line
svg.append("line")
  .attr("x1", frame.left).attr("x2", frame.right)
  .attr("y1", y(0)).attr("y2", y(0))
  .attr("stroke", "#000").attr("stroke-width", 2);

// frame
svg.append("rect")
  .attr("x", frame.left).attr("y", frame.top)
  .attr("width", frame.right - frame.left).attr("height", frame.bottom - frame.top)
  .attr("fill", "none").attr("stroke", "#222").attr("stroke-width", 1.3);

// y axis with rotated bold labels
const yAxisG = svg.append("g").attr("transform", `translate(${frame.left},0)`)
  .call(d3.axisLeft(y).tickValues(scoreTicks).tickSize(12).tickSizeOuter(0).tickFormat(d3.format("d")));
yAxisG.select(".domain").remove();
yAxisG.selectAll("line").attr("stroke", "#222").attr("stroke-width", 1.2);
yAxisG.selectAll("text")
  .attr("transform", "rotate(-90)")
  .attr("x", 0).attr("y", -25).attr("dy", 0)
  .attr("text-anchor", "middle")
  .attr("font-family", FONT).attr("font-size", 22.5).attr("font-weight", "bold").attr("fill", "#000")
  .text(d => d < 0 ? "-" + Math.abs(d) : d);

svg.append("text")
  .attr("transform", "translate(73,320) rotate(-90)")
  .attr("text-anchor", "middle")
  .attr("font-size", 33)
  .text("Individual cell infiltration score");

// x axis with cancer type names
const xAxisG = svg.append("g").attr("transform", `translate(0,${frame.bottom})`)
  .call(d3.axisBottom(x).tickValues(centers).tickSize(12).tickSizeOuter(0).tickFormat((d, i) => cancers[i]));
xAxisG.select(".domain").remove();
xAxisG.selectAll("line").attr("stroke", "#222").attr("stroke-width", 1.2);
xAxisG.selectAll("text")
  .attr("transform", "rotate(-90)")
  .attr("x", -27).attr("y", 0).attr("dy", "0.36em")
  .attr("text-anchor", "end")
  .attr("font-family", FONT).attr("font-size", 16).attr("font-weight", "bold").attr("fill", "#000");

// legend
const legend = svg.append("g");
legend.append("rect").attr("x", 157).attr("y", 28).attr("width", 140).attr("height", 216)
  .attr("fill", "none").attr("stroke", "#222").attr("stroke-width", 1.2);
legend.append("text").attr("x", 166).attr("y", 51).attr("font-size", 19.5).text("CELL TYPES");
cellTypes.forEach((name, i) => {
  const ly = 76 + 24.3 * i;
  legend.append("line").attr("x1", 175).attr("x2", 212).attr("y1", ly).attr("y2", ly)
    .attr("stroke", cellColors[i]).attr("stroke-width", 3.4);
  legend.append("text").attr("x", 229).attr("y", ly + 7).attr("font-size", 19.5).text(name);
});

// Bottom panel: mutation counts
const xb = d3.scaleBand().domain(cancers).range([193, 1447]).paddingInner(0.015).paddingOuter(0);
const yb = d3.scaleLog().domain([1, 10000]).range([958.3, 771.7]);
const barBase = 960.7;

const blocks = svg.append("g").attr("shape-rendering", "crispEdges");
cancers.forEach((c, ci) => {
  const vals = mutationCounts[ci];
  const inner = d3.scaleBand().domain(d3.range(vals.length)).range([xb(c), xb(c) + xb.bandwidth()]);
  blocks.append("g").selectAll("rect")
    .data(vals)
    .join("rect")
    .attr("x", (d, j) => inner(j))
    .attr("width", inner.bandwidth() + 0.05)
    .attr("y", d => yb(Math.max(d, 1)))
    .attr("height", d => barBase - yb(Math.max(d, 1)))
    .attr("fill", cancerColors[ci]);
});

const ybAxis = svg.append("g").attr("transform", "translate(182,0)")
  .call(d3.axisLeft(yb).tickValues(mutationTicks).tickSize(8).tickSizeOuter(0).tickPadding(17)
    .tickFormat((d, i) => mutationTickLabels[i]));
ybAxis.select(".domain").attr("stroke", "#222").attr("stroke-width", 1.2);
ybAxis.selectAll("line").attr("stroke", "#222").attr("stroke-width", 1.2);
ybAxis.selectAll("text").attr("font-family", FONT).attr("font-size", 24).attr("fill", "#000");

svg.append("text")
  .attr("transform", "translate(35,859) rotate(-90)")
  .attr("text-anchor", "middle").attr("font-size", 29.5)
  .text("Number of somatic");
svg.append("text")
  .attr("transform", "translate(67,859) rotate(-90)")
  .attr("text-anchor", "middle").attr("font-size", 29.5)
  .text("missense mutations");

// glossary of abbreviations
const glossary = [glossaryCol1, glossaryCol2, glossaryCol3, glossaryCol4];
const abbrX = [10, 437, 855, 1232];
const nameX = [122, 501, 920, 1299];
const gl = svg.append("g").attr("font-size", 17.5).attr("fill", "#111");
glossary.forEach((col, k) => {
  col.forEach((row, r) => {
    const gy = 1081 + 21 * r;
    gl.append("text").attr("x", abbrX[k]).attr("y", gy).text(row[0]);
    gl.append("text").attr("x", nameX[k]).attr("y", gy).text(row[1]);
  });
});
</script>
</body></html>
